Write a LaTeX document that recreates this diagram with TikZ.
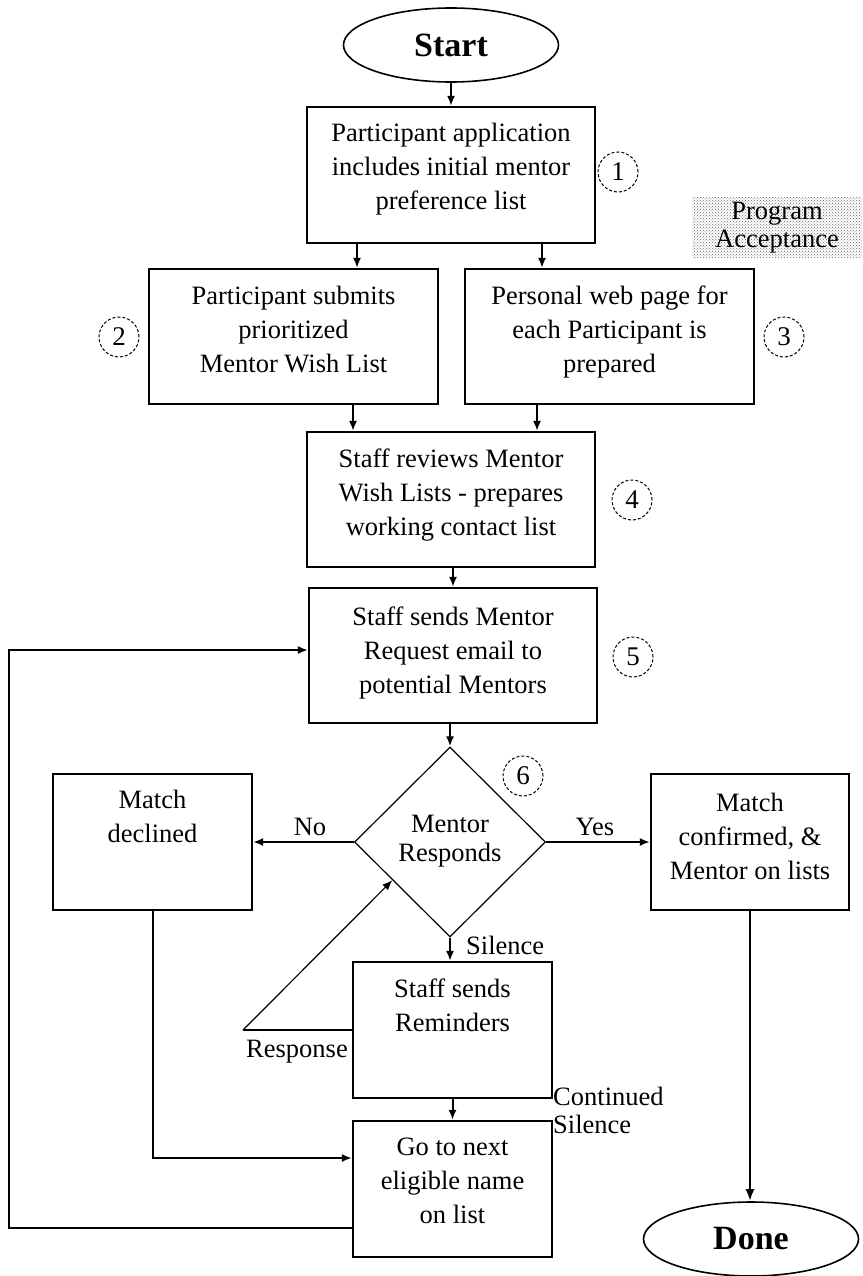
\documentclass[tikz,border=0pt]{standalone}
\usepackage{fontspec}
\setmainfont{Liberation Serif}
\usetikzlibrary{shapes.geometric,arrows.meta,patterns,calc}
\begin{document}
\begin{tikzpicture}[x=1pt,y=-1pt,
  box/.style={draw, line width=2.2pt, inner sep=0pt},
  txt/.style={font=\fontsize{26.5}{34}\selectfont, align=center, inner sep=0pt},
  num/.style={circle, draw, densely dashed, line width=1pt, minimum size=40pt, inner sep=0pt, font=\fontsize{27}{30}\selectfont},
  arr/.style={line width=2pt, -{Latex[length=10pt,width=8pt]}},
  lbl/.style={font=\fontsize{26.5}{28}\selectfont, inner sep=0pt},
  oval/.style={ellipse, draw, line width=1.6pt, minimum width=215pt, minimum height=74pt, inner sep=0pt, font=\bfseries\fontsize{34}{40}\selectfont}]

\fill[white] (0,0) rectangle (862,1276);
\useasboundingbox (0,0) rectangle (862,1276);

% nodes
\node[oval] (start) at (451,45) {Start};
\node[box, minimum width=288pt, minimum height=136pt] (b1) at (451,175) {};
\node[txt] (t1) at (451,169) {\strut Participant application\\ \strut includes initial mentor\\ \strut preference list};
\node[num] (n1) at (618,172) {1};

\node[pattern=crosshatch dots, pattern color=black!60, minimum width=170pt, minimum height=59pt, inner sep=0pt, align=center, font=\fontsize{26.5}{28}\selectfont] (pa) at (777,227.5) {\strut Program\\ \strut Acceptance};

\node[box, minimum width=289pt, minimum height=135pt] (b2) at (293.5,336.5) {};
\node[txt] (t2) at (293.5,332) {\strut Participant submits\\ \strut prioritized\\ \strut Mentor Wish List};
\node[num] (n2) at (119,337) {2};

\node[box, minimum width=289pt, minimum height=135pt] (b3) at (609.5,336.5) {};
\node[txt] (t3) at (609.5,332) {\strut Personal web page for\\ \strut each Participant is\\ \strut prepared};
\node[num] (n3) at (784,337) {3};

\node[box, minimum width=288pt, minimum height=135pt] (b4) at (451,499.5) {};
\node[txt] (t4) at (451,495) {\strut Staff reviews Mentor\\ \strut Wish Lists - prepares\\ \strut working contact list};
\node[num] (n4) at (632,500) {4};

\node[box, minimum width=288pt, minimum height=135pt] (b5) at (453,655.5) {};
\node[txt] (t5) at (453,653) {\strut Staff sends Mentor\\ \strut Request email to\\ \strut potential Mentors};
\node[num] (n5) at (633,657) {5};

\node[diamond, draw, line width=1.2pt, minimum width=191pt, minimum height=190pt, inner sep=0pt] (dia) at (450,842) {};
\node[txt, font=\fontsize{26.5}{29}\selectfont] (td) at (450,841) {\strut Mentor\\ \strut Responds};
\node[num] (n6) at (523,776) {6};

\node[box, minimum width=199pt, minimum height=136pt] (md) at (152.5,842) {};
\node[txt] (tmd) at (152.5,819) {\strut Match\\ \strut declined};

\node[box, minimum width=198pt, minimum height=136pt] (mc) at (750,842) {};
\node[txt] (tmc) at (750,839) {\strut Match\\ \strut confirmed, \&\\ \strut Mentor on lists};

\node[box, minimum width=199pt, minimum height=136pt] (rem) at (452.5,1030) {};
\node[txt] (trem) at (452.5,1008) {\strut Staff sends\\ \strut Reminders};

\node[box, minimum width=199pt, minimum height=136pt] (go) at (452.5,1189) {};
\node[txt] (tgo) at (452.5,1183) {\strut Go to next\\ \strut eligible name\\ \strut on list};

\node[oval] (done) at (751,1239) {Done};

% labels
\node[lbl] (lno) at (310,827) {No};
\node[lbl] (lyes) at (595,827) {Yes};
\node[lbl, anchor=west] (lsil) at (466,945) {Silence};
\node[lbl, anchor=east] (lresp) at (348,1052) {Response};
\node[lbl, anchor=west, align=left] (lcont) at (553,1114) {\strut Continued\\ \strut Silence};

% helper coordinates
\coordinate (c1) at ([xshift=-94pt]b1.south);
\coordinate (c2) at ([xshift=91pt]b1.south);
\coordinate (c3) at ([xshift=59.5pt]b2.south);
\coordinate (c4) at ([xshift=-72.5pt]b3.south);
\coordinate (lx) at (9,0);
\coordinate (g1) at ([yshift=-39pt]go.west);
\coordinate (g2) at ([yshift=31pt]go.west);
\coordinate (e5) at ([yshift=5.5pt]b5.west);
\coordinate (rk) at (243,1030);
\coordinate (dtip) at ($(dia.west)!0.4!(dia.south)$);

% connectors
\draw[arr] (start.south) -- (b1.north);
\draw[arr] (c1) -- (c1 |- b2.north);
\draw[arr] (c2) -- (c2 |- b3.north);
\draw[arr] (c3) -- (c3 |- b4.north);
\draw[arr] (c4) -- (c4 |- b4.north);
\draw[arr] (b4.south -| b5.north) -- (b5.north);
\draw[arr] (b5.south -| dia.north) -- (dia.north);
\draw[arr] (dia.west) -- (dia.west -| md.east);
\draw[arr] (dia.east) -- (dia.east -| mc.west);
\draw[arr] (dia.south) -- (dia.south |- rem.north);
\draw[arr] (rem.south) -- (go.north);
\draw[line width=1.2pt] (rem.west) -- (rk);
\draw[line width=1.2pt, -{Latex[length=10pt,width=8pt]}] (rk) -- (dtip);
\draw[arr] (md.south) |- (g2);
\draw[arr] (g1) -- (g1 -| lx) |- (e5);
\draw[line width=2.8pt, -{Latex[length=12pt,width=9pt]}] (mc.south) -- (mc.south |- done.north);
\end{tikzpicture}
\end{document}
